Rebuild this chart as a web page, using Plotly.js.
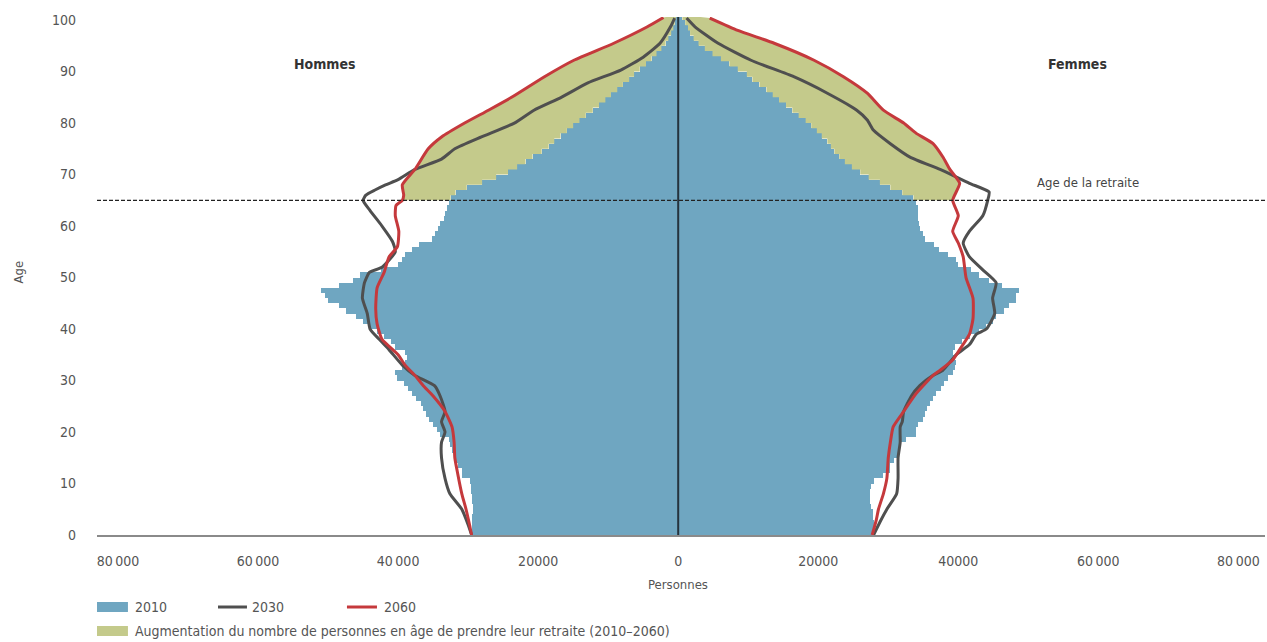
<!DOCTYPE html>
<html>
<head>
<meta charset="utf-8">
<script src="https://cdn.plot.ly/plotly-3.0.1.min.js"></script>
<style>html,body{margin:0;padding:0;background:#fff;}#chart{width:1267px;height:642px;}</style>
</head>
<body>
<div id="chart"></div>
<script>
// ---- data (persons per single year of age) ----
const ages = Array.from({length: 101}, (_, i) => i); // 0..100

const men2010 = [
  29500,29500,29400,29400,29300,29300,29400,29500,29600,29600,
  29800,30900,30900,31500,31800,32000,32300,32600,32800,34000,
  34500,35000,35600,36000,36400,36800,37400,38000,38600,39200,
  40200,40400,39500,39000,38800,39000,40500,41000,42000,43000,
  44000,45000,46000,47500,48500,50000,50500,51000,48500,46500,
  45500,42500,40000,39500,39000,38000,37000,35200,34800,34300,
  34000,33500,33300,33000,32800,32500,31800,30200,28000,26000,
  24300,23000,21800,20800,19500,18500,17700,16800,15900,15000,
  14100,13200,12200,11300,10400,9600,8700,7900,7000,6300,
  5500,4600,3800,3100,2400,1800,1400,1000,700,500,300];

const women2010 = [
  27900,27900,27900,27800,27800,27600,27400,27400,27400,27500,
  28000,29300,30300,30300,30800,31500,31700,31800,32500,34000,
  34000,34200,35000,35200,35500,36000,36400,36800,37500,38000,
  38500,39200,39500,39700,39500,39200,39500,40500,41600,43000,
  44000,45000,45400,46500,47300,48200,48200,48700,46300,44400,
  43000,41800,40000,39700,38500,37200,36600,35200,35000,34600,
  34400,34300,34300,34200,34000,33600,32000,30300,28800,27200,
  26000,24800,23800,23000,22300,21800,21300,20500,19800,19000,
  18200,17200,16300,15400,14400,13500,12600,11600,10600,9800,
  8500,7300,6100,4900,3800,2900,2200,1700,1400,1000,600];

const men2030Ages = [0,2,5,8,11,15,18,20,22,24,27,29,31,33,36,38,40,43,46,49,51,52,55,57,60,63,65,66,67,68,69,71,73,75,77.3,80,82.5,85,87.8,90.3,92.8,95.5,98.7,100.4];
const men2030 = [29500,30000,30900,32600,33300,33800,33800,33300,33800,33300,34000,34800,37600,39400,41300,42700,44000,44400,45100,44800,44100,42300,40400,40800,42300,44000,45000,44600,43300,41800,40000,37600,33800,31900,28100,23400,20600,16700,12900,8200,5000,2600,1100,500];

const men2060Ages = [0,2,5,8,12,15,18,21,24,27,29,31,33,35,38,41,44,48,51,54,56,59,62,64,65,66,68,71,75,77.3,80,82.5,85,89,92.2,95.5,98.7,100.5];
const men2060 = [29500,29800,30300,30900,31500,31900,32000,32300,33300,35000,36400,37600,39000,40000,42300,43000,43200,43000,42000,41300,40100,39900,40400,40300,39400,39200,39400,37600,35700,33800,30500,27100,23800,19100,14900,9200,4400,2100];

const women2030Ages = [0,3,5,8,11,15,18,21,22,24,27,29,31,32,35,37,39,40,43,46,49,51.5,54,56.7,59,62,65,66.6,68.3,71,73.4,76,78.6,80.6,82.5,85.8,89,92.2,95.5,98.7,100.4];
const women2030 = [27900,29000,29800,31200,31400,31400,31700,31700,32000,32200,33300,34500,36400,37800,39700,41600,42600,44000,45200,44900,45400,43500,41600,40700,41600,43500,44200,44400,41600,37400,33100,30300,27900,27000,25500,21300,16500,10400,5700,2400,1200];

const women2060Ages = [0,3,5,8,11,15,18,21,24,27.5,31,32,34,36,39,42,46,50,54,56.7,59,62,65,68.3,71,73.4,76,78,80,82.5,85.8,89,92.2,95.5,98,100.4];
const women2060 = [27700,28300,28600,29300,29800,30000,30300,30700,32200,34000,36400,37400,39200,40200,41600,42100,42100,41100,40700,40000,39200,40000,39200,40200,38800,37800,36400,34000,32200,29300,27000,23600,19400,13700,8500,4500];

const retirementAge = 65;
const xTickVals = [-80000,-60000,-40000,-20000,0,20000,40000,60000,80000];
const xTickText = ['80\u2009000','60\u2009000','40\u2009000','20000','0','20000','40000','60\u2009000','80\u2009000'];
const yTickVals = [0,10,20,30,40,50,60,70,80,90,100];
const legendLabels = ['2010','2030','2060','Augmentation du nombre de personnes en âge de prendre leur retraite (2010\u20132060)'];

// ---- styles ----
const BLUE = '#6fa6c1', GREEN = '#c4ca8b', GREY = '#4f4f4f', RED = '#c5393c';
const FONT = "'Liberation Sans Narrow', 'DejaVu Sans Condensed', 'Roboto', sans-serif";

// green area polygon: 2060 line (ages >= 65) then 2010 bar staircase back down
function greenPolygon(lineAges, lineVals, bars, sign) {
  const xs = [], ys = [];
  for (let i = 0; i < lineAges.length; i++) {
    if (lineAges[i] >= retirementAge) { xs.push(sign * lineVals[i]); ys.push(lineAges[i]); }
  }
  for (let a = ages.length - 1; a >= retirementAge; a--) {
    xs.push(sign * bars[a]); ys.push(a + 1);
    xs.push(sign * bars[a]); ys.push(a);
  }
  return {x: xs, y: ys};
}
const gm = greenPolygon(men2060Ages, men2060, men2010, -1);
const gw = greenPolygon(women2060Ages, women2060, women2010, 1);

const traces = [
  {type: 'bar', orientation: 'h', y: ages, x: men2010.map(v => -v), width: 1, offset: 0,
   marker: {color: BLUE, line: {width: 0}}, hoverinfo: 'skip'},
  {type: 'bar', orientation: 'h', y: ages, x: women2010, width: 1, offset: 0,
   marker: {color: BLUE, line: {width: 0}}, hoverinfo: 'skip'},
  {type: 'scatter', mode: 'lines', x: gm.x, y: gm.y, fill: 'toself', fillcolor: GREEN,
   line: {width: 0, color: GREEN}, hoverinfo: 'skip'},
  {type: 'scatter', mode: 'lines', x: gw.x, y: gw.y, fill: 'toself', fillcolor: GREEN,
   line: {width: 0, color: GREEN}, hoverinfo: 'skip'},
  {type: 'scatter', mode: 'lines', x: men2030.map(v => -v), y: men2030Ages,
   line: {color: GREY, width: 3, shape: 'spline', smoothing: 0.5}, hoverinfo: 'skip'},
  {type: 'scatter', mode: 'lines', x: women2030, y: women2030Ages,
   line: {color: GREY, width: 3, shape: 'spline', smoothing: 0.5}, hoverinfo: 'skip'},
  {type: 'scatter', mode: 'lines', x: men2060.map(v => -v), y: men2060Ages,
   line: {color: RED, width: 3, shape: 'spline', smoothing: 0.5}, hoverinfo: 'skip'},
  {type: 'scatter', mode: 'lines', x: women2060, y: women2060Ages,
   line: {color: RED, width: 3, shape: 'spline', smoothing: 0.5}, hoverinfo: 'skip'}
];

const TXT = '#555555';
function note(xref, yref, x, y, text, size, extra) {
  return Object.assign({xref: xref, yref: yref, x: x, y: y, text: text, showarrow: false,
    xanchor: 'center', yanchor: 'middle', font: {family: FONT, size: size, color: TXT}}, extra || {});
}
const layout = {
  width: 1267, height: 642,
  margin: {l: 97, r: 2, t: 17, b: 107},
  paper_bgcolor: '#ffffff', plot_bgcolor: '#ffffff',
  showlegend: false, barmode: 'overlay', bargap: 0,
  font: {family: FONT, size: 14, color: TXT},
  xaxis: {
    range: [-83000, 83800], tickvals: xTickVals, ticktext: xTickText,
    showline: true, linecolor: '#8a8a8a', linewidth: 1.5, showgrid: false, zeroline: false,
    ticks: '', ticklabelstandoff: 13, tickfont: {family: FONT, size: 14, color: TXT}, fixedrange: true
  },
  yaxis: {
    range: [0, 100.6], tickvals: yTickVals, showline: false, showgrid: false, zeroline: false,
    ticks: '', ticklabelstandoff: 20, tickfont: {family: FONT, size: 14, color: TXT}, fixedrange: true
  },
  shapes: [
    {type: 'line', xref: 'paper', x0: 0, x1: 1, yref: 'y', y0: retirementAge, y1: retirementAge,
     line: {color: '#222', width: 1.2, dash: '4px,2px'}},
    {type: 'line', xref: 'x', x0: 0, x1: 0, yref: 'y', y0: 0, y1: 100.6,
     line: {color: '#25333d', width: 2}},
    // legend swatches
    {type: 'rect', xref: 'paper', yref: 'paper', x0: 0, x1: 0.0265, y0: -0.1486, y1: -0.1293,
     fillcolor: BLUE, line: {width: 0}},
    {type: 'line', xref: 'paper', yref: 'paper', x0: 0.1036, x1: 0.1284, y0: -0.139, y1: -0.139,
     line: {color: GREY, width: 3}},
    {type: 'line', xref: 'paper', yref: 'paper', x0: 0.214, x1: 0.2397, y0: -0.139, y1: -0.139,
     line: {color: RED, width: 3}},
    {type: 'rect', xref: 'paper', yref: 'paper', x0: 0, x1: 0.0265, y0: -0.195, y1: -0.1757,
     fillcolor: GREEN, line: {width: 0}}
  ],
  annotations: [
    note('x', 'y', -50500, 91.5, '<b>Hommes</b>', 14, {font: {family: FONT, size: 14, color: '#333'}}),
    note('x', 'y', 57000, 91.5, '<b>Femmes</b>', 14, {font: {family: FONT, size: 14, color: '#333'}}),
    note('x', 'y', 51000, 68.4, 'Age de la retraite', 13, {xanchor: 'left', font: {family: FONT, size: 13, color: '#444'}}),
    note('x', 'paper', 0, -0.0965, 'Personnes', 13),
    note('paper', 'y', -0.0676, 51, 'Age', 13, {textangle: -90}),
    note('paper', 'paper', 0.0308, -0.139, legendLabels[0], 14, {xanchor: 'left'}),
    note('paper', 'paper', 0.131, -0.139, legendLabels[1], 14, {xanchor: 'left'}),
    note('paper', 'paper', 0.244, -0.139, legendLabels[2], 14, {xanchor: 'left'}),
    note('paper', 'paper', 0.0308, -0.1853, legendLabels[3], 14, {xanchor: 'left'})
  ]
};

Plotly.newPlot('chart', traces, layout, {displayModeBar: false, staticPlot: true});
</script>
</body>
</html>
